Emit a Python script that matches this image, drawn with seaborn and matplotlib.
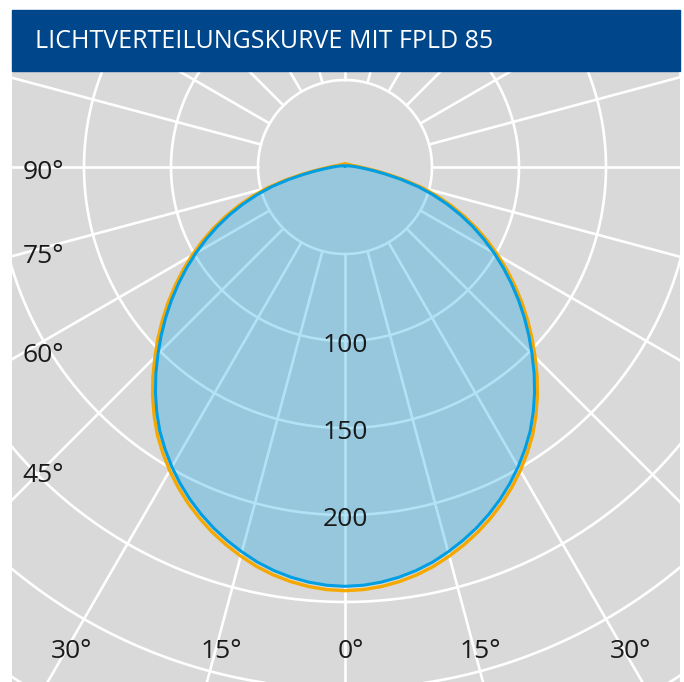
import numpy as np
import pandas as pd
import matplotlib.pyplot as plt
import seaborn as sns
from matplotlib.patches import Rectangle

# Lichtstaerke je Ausstrahlungswinkel (0 = Nadir), Kurve ist symmetrisch
gamma = [0, 2.5, 5, 7.5, 10, 12.5, 15, 17.5, 20, 22.5, 25, 27.5, 30, 32.5, 35, 37.5, 40, 42.5,
         45, 47.5, 50, 52.5, 55, 57.5, 60, 62.5, 65, 67.5, 70, 72.5, 75, 77.5, 80, 82.5, 85, 87.5,
         90, 95, 100, 105, 110, 115, 120, 125, 130, 135, 140, 145, 150, 155, 160, 165, 170, 175, 180]
i_c0 = [243.5, 243.1, 242.0, 240.3, 238.0, 235.1, 231.5, 227.6, 223.3, 218.5, 213.3, 207.6,
        201.5, 194.9, 188.0, 180.2, 172.0, 163.4, 154.5, 145.8, 137.0, 128.2, 119.3, 110.4,
        101.5, 92.5, 83.5, 74.3, 65.0, 55.5, 46.0, 35.5, 26.0, 19.0, 14.0, 10.7,
        8.9, 6.2, 4.7, 3.9, 3.4, 3.0, 2.7, 2.5, 2.3, 2.2, 2.1, 2.0, 1.9, 1.8, 1.8, 1.7, 1.7, 1.7, 1.7]
i_c90 = [241.0, 240.6, 239.5, 237.8, 235.5, 232.6, 229.0, 225.1, 220.8, 216.0, 210.8, 205.1,
         199.0, 192.4, 185.5, 177.7, 169.5, 160.9, 152.0, 143.3, 134.5, 125.7, 116.8, 107.9,
         99.0, 90.0, 81.0, 71.8, 62.5, 53.0, 43.5, 33.2, 23.9, 17.0, 12.0, 8.8,
         7.0, 4.5, 3.2, 2.5, 2.0, 1.7, 1.4, 1.2, 1.0, 0.9, 0.8, 0.7, 0.6, 0.5, 0.4, 0.4, 0.3, 0.3, 0.3]

rings = [50, 100, 150, 200, 250, 300, 350]
ring_labels = [100, 150, 200]
side_angles = [90, 75, 60, 45]
bottom_angles = [-30, -15, 0, 15, 30]
title = 'LICHTVERTEILUNGSKURVE MIT FPLD 85'

bg_grey = '#d9d9d9'
blue = '#009fe3'
orange = '#f5a800'
title_blue = '#00468a'

sns.set_style('white', {'axes.facecolor': bg_grey})
plt.rcParams['font.family'] = ['Open Sans', 'DejaVu Sans']


def to_xy(angle_deg, r):
    a = np.deg2rad(np.asarray(angle_deg, dtype=float))
    r = np.asarray(r, dtype=float)
    return r * np.sin(a), -r * np.cos(a)


def full_curve(vals):
    ang = [-g for g in gamma[::-1]] + gamma[1:]
    rr = vals[::-1] + vals[1:]
    x, y = to_xy(ang, rr)
    return pd.DataFrame({'x': x, 'y': y})


fig = plt.figure(figsize=(6.84, 6.82), dpi=100)
ax = fig.add_axes([12 / 684, 0, 668 / 684, 611 / 682])
px = 87 / 50  # pixel je cd
xlim = ((12 - 345) / px, (680 - 345) / px)
ylim = ((167 - 682) / px, (167 - 71) / px)
ax.add_patch(Rectangle((0, 0), 1, 1, transform=ax.transAxes, color=bg_grey, zorder=0))

# Raster
t = np.linspace(0, 360, 721)
for r in rings:
    cx, cy = to_xy(t, np.full_like(t, r))
    ax.plot(cx, cy, color='white', lw=1.9, zorder=1)
for a in range(0, 360, 15):
    lx, ly = to_xy([a, a], [50, 420])
    ax.plot(lx, ly, color='white', lw=1.9, zorder=1)

c0 = full_curve(i_c0)
c90 = full_curve(i_c90)
ax.fill(c90['x'], c90['y'], color=blue, alpha=0.3, lw=0, zorder=2)
sns.lineplot(data=c0, x='x', y='y', sort=False, estimator=None, color=orange, lw=2.4, ax=ax, zorder=3)
sns.lineplot(data=c90, x='x', y='y', sort=False, estimator=None, color=blue, lw=2.2, ax=ax, zorder=4)
ax.set_xlim(*xlim)
ax.set_ylim(*ylim)
ax.set_axis_off()

txt = dict(fontsize=19, color='#1a1a1a', ha='center', va='center', zorder=5)
for r in ring_labels:
    ax.text(0, -r - 2.7, str(r), **txt)

x_side = (43 - 345) / px
side_shift = [-3.4, -4.7, -8.0, -4.0]
for a, s in zip(side_angles, side_shift):
    y = x_side / np.tan(np.deg2rad(a)) if a != 90 else 0
    ax.text(x_side, y + s, f'{a}\u00b0', **txt)

y_bottom = (167 - 651) / px
for a in bottom_angles:
    ax.text(-y_bottom * np.tan(np.deg2rad(a)) + 3.5, y_bottom, f'{abs(a)}\u00b0', **txt)

# Titelbalken
fig.patches.append(Rectangle((12 / 684, 1 - 71 / 682), 668 / 684, 61 / 682,
                             transform=fig.transFigure, color=title_blue, zorder=0))
fig.text(35 / 684, 1 - 41 / 682, title, color='white', fontsize=18, ha='left', va='center')

plt.savefig('out.png', dpi=100)
